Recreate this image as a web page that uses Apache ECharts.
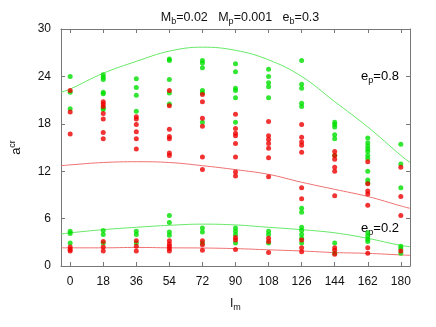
<!DOCTYPE html>
<html><head><meta charset="utf-8">
<script src="https://cdn.jsdelivr.net/npm/echarts@6/dist/echarts.min.js"></script>
<style>html,body{margin:0;padding:0;background:#fff}#c{width:436px;height:327px}</style>
</head><body><div id="c"></div>
<script>
const xs = [0,18,36,54,72,90,108,126,144,162,180];
const xTicks = [0,18,36,54,72,90,108,126,144,162,180];
const yTicks = [0,6,12,18,24,30];
const greenVals = [
  [24.0,22.0,19.9,4.4,4.1,2.9],
  [24.2,23.9,23.6,22.0,21.8,20.0,19.8,4.5,4.0,2.9],
  [23.7,22.6,21.6,19.6,4.4,4.0,2.9],
  [26.2,26.0,23.6,21.9,20.5,6.4,5.5,4.3,3.9],
  [26.0,25.7,25.1,22.2,21.9,18.2,4.8,4.3,2.9],
  [25.6,24.6,22.5,22.2,21.3,18.2,4.8,4.4,4.0,2.9],
  [24.9,24.0,23.2,22.7,21.3,4.4,4.0,2.9],
  [26.0,23.0,22.5,20.6,20.2,7.3,6.8,4.9,4.5,4.0,3.5,2.9],
  [18.2,17.9,17.6,16.6,16.1,14.0,2.9,1.6],
  [16.2,15.6,15.2,14.8,14.5,14.0,13.6,12.0,10.9,10.5,4.2,3.8,3.4,3.1],
  [15.4,12.9,9.9,2.5,2.2,1.6]
];
const redVals = [
  [22.2,19.5,16.7,2.4,2.1,1.9],
  [20.8,20.5,20.2,19.3,18.6,16.9,16.1,3.1,2.4,1.9],
  [18.9,18.6,17.9,17.0,16.1,14.8,3.2,2.5,1.9],
  [22.2,20.3,17.3,16.4,16.1,14.3,14.0,3.2,2.8,2.5,2.2,1.9],
  [21.7,20.8,18.7,17.7,13.8,12.2,3.2,2.7,2.0],
  [19.2,17.4,16.8,16.5,15.5,13.8,11.9,11.4,3.6,3.3,2.1],
  [18.3,16.5,16.0,15.5,14.9,13.7,11.3,3.5,3.1,1.7],
  [17.9,16.3,15.7,15.3,14.4,9.9,8.5,3.3,2.3,1.8],
  [14.5,14.0,13.5,12.5,12.0,8.9,2.3,2.0,1.5],
  [13.2,10.4,9.5,9.1,7.7,2.3,1.6],
  [12.5,8.8,6.4,1.9]
];
const curveX  = [-5,0,18,36,54,72,90,108,126,144,162,180,185];
const greenHi = [22.0,22.4,24.4,25.9,27.2,27.7,27.3,26.1,24.0,20.8,17.6,14.0,13.1];
const redHi   = [12.7,12.8,13.1,13.2,13.1,12.7,12.2,11.6,10.6,9.7,8.8,7.6,7.3];
const greenLo = [4.05,4.2,4.6,4.9,5.15,5.3,5.2,4.9,4.6,4.2,3.5,2.6,2.45];
const redLo   = [2.3,2.3,2.3,2.35,2.3,2.28,2.2,2.05,1.9,1.7,1.6,1.4,1.35];

function pts(vals){const o=[];vals.forEach((col,i)=>col.forEach(v=>o.push([xs[i],v])));return o;}
function crv(ys){return curveX.map((x,i)=>[x,ys[i]]);}

const FONT = '"Liberation Sans", Arial, sans-serif';
const GREEN = '#00e000', RED = '#ee0000';
const frame = '#777';
const chart = echarts.init(document.getElementById('c'), null, {renderer:'canvas'});
const baseAxisX = {type:'value',min:-5,max:185,interval:18,
  axisLine:{show:true,onZero:false,lineStyle:{color:frame,width:1}},
  axisTick:{show:true,inside:true,length:4,lineStyle:{color:frame}},
  splitLine:{show:false}};
const baseAxisY = {type:'value',min:0,max:30,interval:6,
  axisLine:{show:true,onZero:false,lineStyle:{color:frame,width:1}},
  axisTick:{show:true,inside:true,length:4,lineStyle:{color:frame}},
  splitLine:{show:false}};
const lineS = (ys,c)=>({type:'line',data:crv(ys),smooth:0.4,showSymbol:false,symbol:'none',
  lineStyle:{color:c,width:1},silent:true,animation:false,z:1});
chart.setOption({
  animation:false,
  title:{text:'{n|M}{s|b}{n|=0.02   M}{s|p}{n|=0.001   e}{s|b}{n|=0.3}',left:235,textAlign:'center',top:5,
    textStyle:{fontWeight:'normal',rich:{n:{fontFamily:FONT,fontSize:12.5,fontWeight:'normal',color:'#111'},s:{fontFamily:FONT,fontSize:9,fontWeight:'normal',color:'#111',verticalAlign:'bottom',padding:[7,0,0,0]}}}},
  grid:{left:57,right:26,top:29,bottom:61},
  xAxis:[Object.assign({},baseAxisX,{position:'bottom',
      axisLabel:{show:true,margin:10,fontFamily:FONT,fontSize:12,color:'#111',
        customValues:xTicks},
      axisTick:{show:true,inside:true,length:4,lineStyle:{color:frame},customValues:xTicks},
      name:'{n|l}{s|m}',nameLocation:'middle',nameGap:29,
      nameTextStyle:{rich:{n:{fontFamily:FONT,fontSize:13,color:'#111'},s:{fontFamily:FONT,fontSize:9,color:'#111',padding:[8,0,0,0]}}}}),
    Object.assign({},baseAxisX,{position:'top',axisLabel:{show:false},
      axisTick:{show:true,inside:true,length:4,lineStyle:{color:frame},customValues:xTicks}})],
  yAxis:[Object.assign({},baseAxisY,{position:'left',
      axisLabel:{show:true,margin:10,fontFamily:FONT,fontSize:12,color:'#111'},
      name:'{n|a}{s|cr}',nameLocation:'middle',nameGap:36,nameRotate:90,
      nameTextStyle:{rich:{n:{fontFamily:FONT,fontSize:13,color:'#111'},s:{fontFamily:FONT,fontSize:9,color:'#111',padding:[0,0,8,0]}}}}),
    Object.assign({},baseAxisY,{position:'right',axisLabel:{show:false}})],
  series:[
    lineS(greenHi,'#66e866'), lineS(redHi,'#f07070'),
    lineS(greenLo,'#66e866'), lineS(redLo,'#f07070'),
    {type:'scatter',data:pts(greenVals),symbol:'circle',symbolSize:5,itemStyle:{color:GREEN},z:3},
    {type:'scatter',data:pts(redVals),symbol:'circle',symbolSize:5,itemStyle:{color:RED},z:4}
  ]
});
const p8 = chart.convertToPixel({xAxisIndex:0,yAxisIndex:0},[179,24]);
const p2 = chart.convertToPixel({xAxisIndex:0,yAxisIndex:0},[179,4.8]);
const labRich = {n:{fontFamily:FONT,fontSize:13,color:'#111'},s:{fontFamily:FONT,fontSize:9,color:'#111',padding:[8,0,0,0]}};
chart.setOption({graphic:[
  {type:'text',x:p8[0],y:p8[1],style:{text:'{n|e}{s|p}{n|=0.8}',rich:labRich,align:'right',verticalAlign:'middle'}},
  {type:'text',x:p2[0],y:p2[1],style:{text:'{n|e}{s|p}{n|=0.2}',rich:labRich,align:'right',verticalAlign:'middle'}}
]});
</script></body></html>
